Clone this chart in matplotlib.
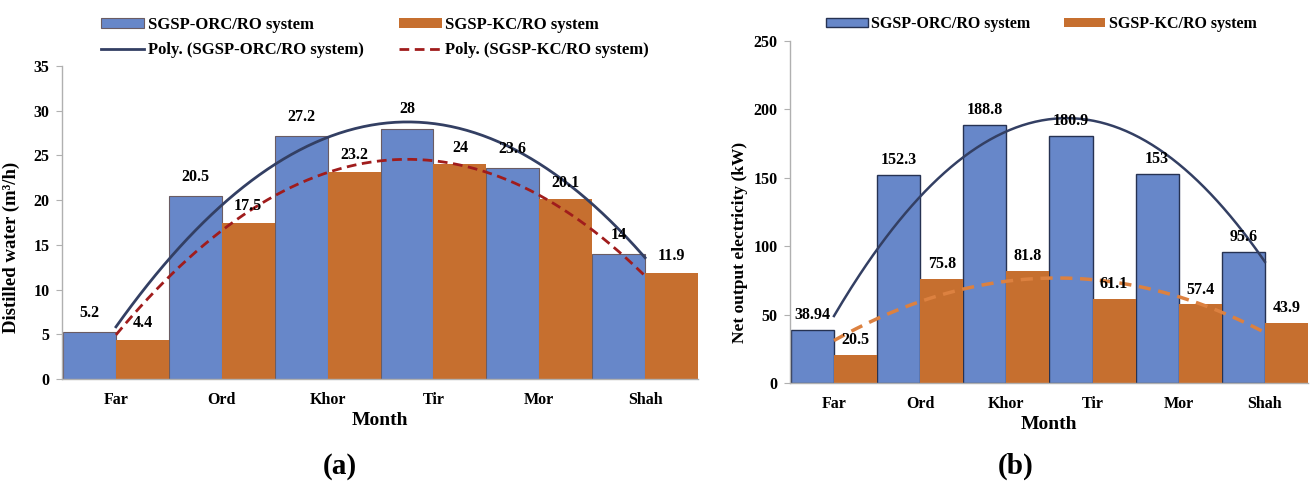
import numpy as np
import matplotlib
matplotlib.use('Agg')
import matplotlib.pyplot as plt

plt.rcParams['font.family'] = ['Liberation Serif', 'DejaVu Serif']
plt.rcParams['font.weight'] = 'bold'
plt.rcParams['axes.labelweight'] = 'bold'

# monthly results for the two systems
months = ['Far', 'Ord', 'Khor', 'Tir', 'Mor', 'Shah']
water_orc = [5.2, 20.5, 27.2, 28, 23.6, 14]
water_kc = [4.4, 17.5, 23.2, 24, 20.1, 11.9]
power_orc = [38.94, 152.3, 188.8, 180.9, 153, 95.6]
power_kc = [20.5, 75.8, 81.8, 61.1, 57.4, 43.9]

BLUE = '#6787c9'
ORANGE = '#c66f2f'
NAVY = '#333f63'
W, H = 1310, 484


def px_axes(fig, x0, y0, x1, y1):
    # axes from pixel corners (top-left origin)
    return fig.add_axes([x0 / W, 1 - y1 / H, (x1 - x0) / W, (y1 - y0) / H])


def style_axes(ax, ymax, ystep):
    ax.set_xlim(-0.51, 5.5)
    ax.set_ylim(0, ymax)
    ax.set_yticks(np.arange(0, ymax + 1, ystep))
    ax.set_xticks(range(len(months)))
    ax.set_xticklabels(months)
    for s in ['top', 'right']:
        ax.spines[s].set_visible(False)
    for s in ['left', 'bottom']:
        ax.spines[s].set_color('#b0b0b0')
        ax.spines[s].set_linewidth(1.0)
    ax.tick_params(axis='x', length=0, pad=9, labelsize=11.5)
    ax.tick_params(axis='y', length=4, color='#b0b0b0', pad=5, labelsize=11.5)
    ax.set_xlabel('Month', fontsize=14, labelpad=3)


def trend(ax, vals, **kw):
    x = np.arange(len(vals))
    coef = np.polyfit(x, vals, 2)
    xs = np.linspace(0, len(vals) - 1, 200)
    ax.plot(xs, np.polyval(coef, xs), **kw)


def value_labels(ax, xs, vals, dy):
    for x, v in zip(xs, vals):
        ax.annotate(f'{v:g}', (x, v), xytext=(0, dy), textcoords='offset points',
                    ha='center', va='bottom', fontsize=11.5, clip_on=False)


fig = plt.figure(figsize=(13.1, 4.84), dpi=100)
x = np.arange(len(months))
bw = 0.5

# (a) distilled water
ax1 = px_axes(fig, 62, 66, 698, 379)
ax1.bar(x - bw / 2, water_orc, bw, color=BLUE, edgecolor='#6a5c63', linewidth=0.8,
        label='SGSP-ORC/RO system')
ax1.bar(x + bw / 2, water_kc, bw, color=ORANGE, linewidth=0,
        label='SGSP-KC/RO system')
trend(ax1, water_orc, color=NAVY, lw=2.0, label='Poly. (SGSP-ORC/RO system)')
trend(ax1, water_kc, color='#a01c1c', lw=2.0, ls=(0, (3.5, 2)),
      label='Poly. (SGSP-KC/RO system)')
value_labels(ax1, x - bw / 2, water_orc, 8)
value_labels(ax1, x + bw / 2, water_kc, 6)
style_axes(ax1, 35, 5)
ax1.set_ylabel('Distilled water (m³/h)', fontsize=13.5)
ax1.yaxis.set_label_coords(-0.066, 0.42)
h, l = ax1.get_legend_handles_labels()
order = [2, 0, 3, 1]
ax1.legend([h[i] for i in order], [l[i] for i in order], ncol=2, loc='upper left',
           bbox_to_anchor=(86 / W, 1 - 2 / H), bbox_transform=fig.transFigure,
           frameon=False, fontsize=12, handlelength=2.6, handleheight=0.5,
           handletextpad=0.2, columnspacing=2.1, labelspacing=0.55)

# (b) net output electricity
ax2 = px_axes(fig, 790, 41, 1308, 383)
ax2.bar(x - bw / 2, power_orc, bw, color=BLUE, edgecolor='#263252', linewidth=1.0,
        label='SGSP-ORC/RO system')
ax2.bar(x + bw / 2, power_kc, bw, color=ORANGE, linewidth=0,
        label='SGSP-KC/RO system')
trend(ax2, power_orc, color=NAVY, lw=1.8)
trend(ax2, power_kc, color='#dc8140', lw=2.5, ls=(0, (3.5, 2.2)))
value_labels(ax2, x - bw / 2, power_orc, 5)
value_labels(ax2, x + bw / 2, power_kc, 5)
style_axes(ax2, 250, 50)
ax2.set_ylabel('Net output electricity (kW)', fontsize=12.5)
ax2.yaxis.set_label_coords(-0.081, 0.41)
ax2.legend(ncol=2, loc='upper left', bbox_to_anchor=(812 / W, 1 - 2 / H),
           bbox_transform=fig.transFigure, frameon=False, fontsize=11.5,
           handlelength=2.6, handleheight=0.5, handletextpad=0.2, columnspacing=2.1)

fig.text(340 / W, 1 - 466 / H, '(a)', ha='center', va='center', fontsize=21)
fig.text(1016 / W, 1 - 466 / H, '(b)', ha='center', va='center', fontsize=21)

fig.savefig('out.png', dpi=100)
